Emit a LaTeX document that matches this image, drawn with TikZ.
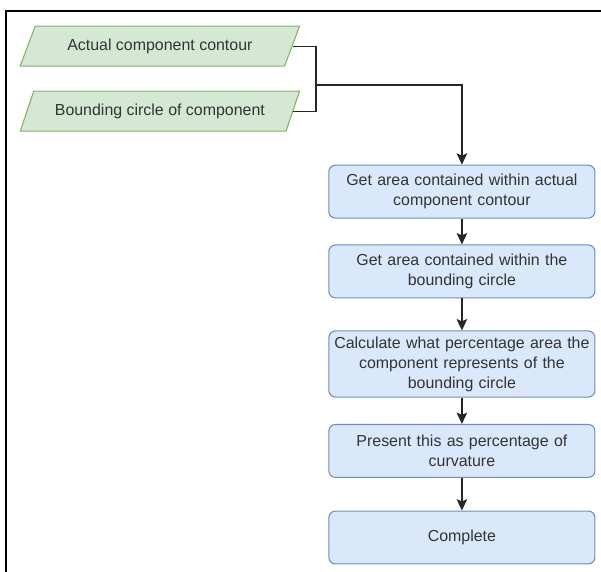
\documentclass[tikz,border=0pt]{standalone}
\usepackage{fontspec}
\setmainfont{Liberation Sans}
\usetikzlibrary{shapes.geometric,arrows.meta}

\definecolor{inputfill}{HTML}{D5E8D4}
\definecolor{inputline}{HTML}{82B366}
\definecolor{stepfill}{HTML}{DAE8FC}
\definecolor{stepline}{HTML}{6C8EBF}

\begin{document}
\begin{tikzpicture}[
        font=\fontsize{12}{15}\selectfont,
        text=black!80,
        input/.style={
            draw=inputline,
            fill=inputfill,
            line width=0.8pt,
            trapezium,
            trapezium left angle=53,
            trapezium right angle=127,
            trapezium stretches=true,
            minimum width=7.4cm,
            minimum height=1.06cm,
            inner sep=0pt
        },
        stepbox/.style={
            draw=stepline,
            fill=stepfill,
            line width=0.8pt,
            rounded corners=5pt,
            minimum width=7.04cm,
            text width=6.8cm,
            align=center
        },
        link/.style={line width=0.9pt, draw=black!85},
        >={Stealth[length=3mm,width=2.8mm,inset=0.6mm]}
    ]

    \useasboundingbox (0,0) rectangle (15.9,-15.13);

    % page frame
    \draw[line width=1.4pt] (0.16,-15.13) -- (0.16,-0.29) -- (15.9,-0.29);

    \node[input] (contour) at (4.23,-1.22) {Actual component contour};
    \node[input] (circle) at (4.23,-2.94) {Bounding circle of component};

    \node[stepbox, minimum height=1.40cm] (areacomp) at (12.22,-5.07)
        {Get area contained within actual\\component contour};
    \node[stepbox, minimum height=1.40cm] (areacirc) at (12.22,-7.18)
        {Get area contained within the\\bounding circle};
    \node[stepbox, minimum height=1.75cm] (ratio) at (12.22,-9.63)
        {Calculate what percentage area the\\component represents of the\\bounding circle};
    \node[stepbox, minimum height=1.40cm] (present) at (12.22,-11.93)
        {Present this as percentage of\\curvature};
    \node[stepbox, minimum height=1.40cm] (done) at (12.22,-14.22)
        {Complete};

    \coordinate (join) at (8.36,-2.25);

    \draw[link] (contour.east) -| (join) |- (circle.east);
    \draw[link,->] (join) -| (areacomp.north);
    \draw[link,->] (areacomp) -- (areacirc);
    \draw[link,->] (areacirc) -- (ratio);
    \draw[link,->] (ratio) -- (present);
    \draw[link,->] (present) -- (done);

\end{tikzpicture}
\end{document}
